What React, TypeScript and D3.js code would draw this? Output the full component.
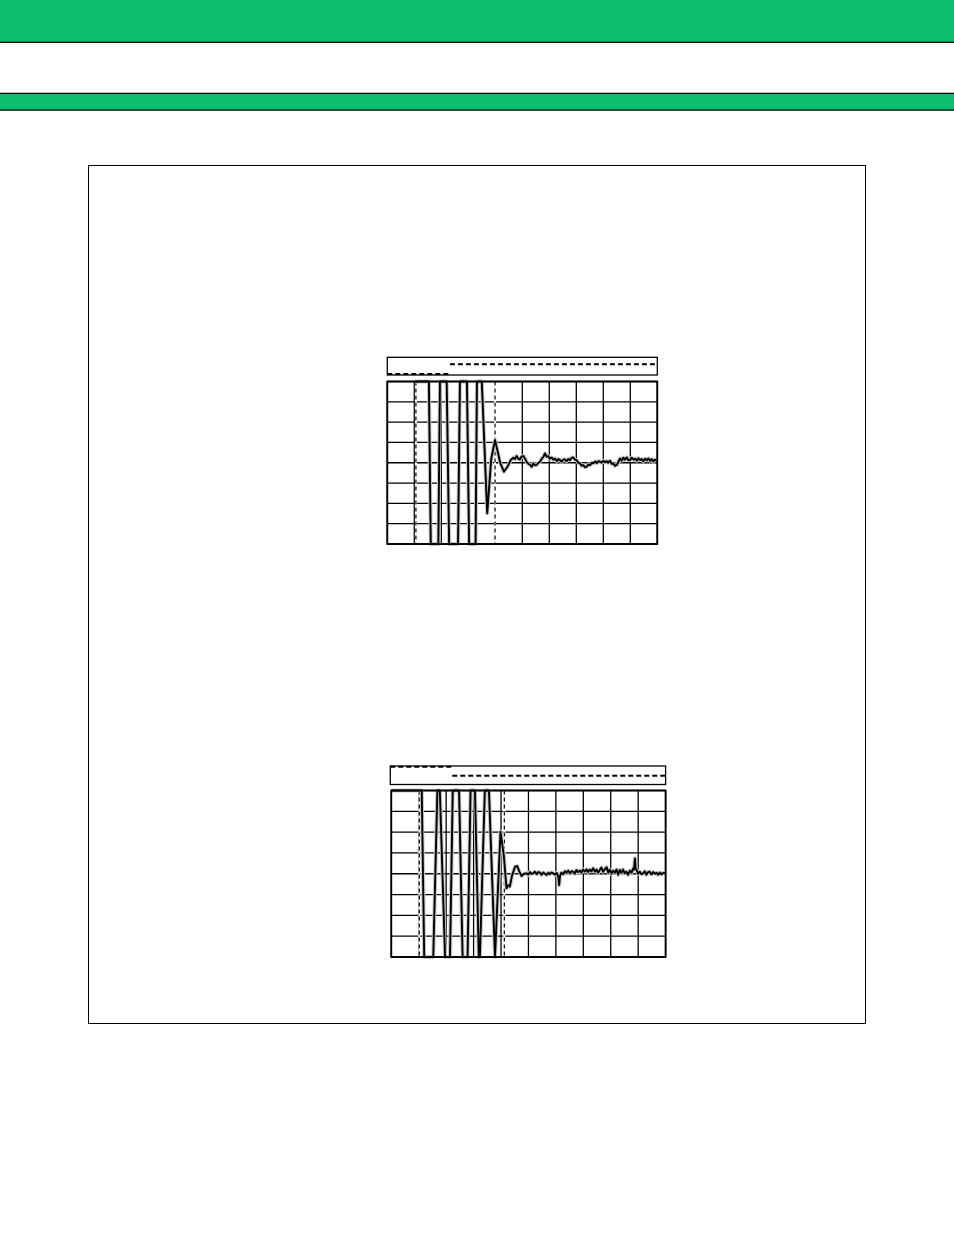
import React from "react";
import * as d3 from "d3";

// ---- data (x in horizontal divisions 0..10, y in vertical divisions -4..4) ----
const trace1X = [1.03, 1.54, 1.61, 1.89, 1.95, 2.2, 2.29, 2.62, 2.69, 2.95, 3.03, 3.27, 3.32, 3.5, 3.7, 3.85, 3.99, 4.08, 4.18, 4.32, 4.45, 4.58, 4.67, 4.73, 4.79, 4.85, 4.91, 4.97, 5.04, 5.1, 5.16, 5.22, 5.29, 5.35, 5.41, 5.47, 5.53, 5.6, 5.66, 5.72, 5.78, 5.84, 5.9, 5.96, 6.02, 6.09, 6.15, 6.21, 6.28, 6.34, 6.4, 6.46, 6.52, 6.58, 6.64, 6.7, 6.77, 6.83, 6.89, 6.95, 7.01, 7.07, 7.14, 7.2, 7.26, 7.32, 7.38, 7.45, 7.51, 7.57, 7.63, 7.7, 7.76, 7.82, 7.88, 7.94, 8.0, 8.06, 8.12, 8.18, 8.25, 8.31, 8.37, 8.43, 8.5, 8.56, 8.62, 8.68, 8.74, 8.8, 8.87, 8.93, 8.99, 9.05, 9.12, 9.18, 9.24, 9.3, 9.36, 9.42, 9.48, 9.55, 9.61, 9.67, 9.73, 9.79, 9.85, 9.91, 9.98];
const trace1Y = [4, 4, -4, -4, 4, 4, -4, -4, 4, 4, -4, -4, 4, 4, -2.49, 0.2, 1.12, 0.6, 0.0, -0.44, -0.2, 0.15, 0.25, 0.18, 0.33, 0.2, 0.16, 0.3, 0.33, 0.2, 0.05, -0.05, -0.11, -0.2, -0.03, -0.12, -0.11, 0.0, 0.05, 0.2, 0.29, 0.46, 0.3, 0.33, 0.2, 0.26, 0.15, 0.21, 0.08, 0.18, 0.13, 0.05, 0.16, 0.16, 0.08, 0.18, 0.13, 0.25, 0.26, 0.15, 0.13, 0.0, -0.03, -0.15, -0.11, -0.22, -0.2, -0.08, -0.12, 0.0, -0.03, 0.06, -0.02, 0.08, 0.05, 0.0, 0.1, 0.02, 0.08, 0.0, 0.1, -0.05, -0.03, -0.15, -0.11, 0.05, 0.21, 0.1, 0.25, 0.15, 0.26, 0.12, 0.13, 0.25, 0.15, 0.2, 0.1, 0.22, 0.13, 0.18, 0.08, 0.2, 0.12, 0.21, 0.1, 0.18, 0.06, 0.15, 0.1];

const trace2X = [0.0, 1.11, 1.2, 1.53, 1.68, 1.77, 1.96, 2.14, 2.24, 2.47, 2.6, 2.78, 2.89, 3.05, 3.19, 3.23, 3.41, 3.56, 3.78, 3.98, 4.1, 4.2, 4.26, 4.32, 4.4, 4.51, 4.59, 4.67, 4.75, 4.84, 4.93, 5.0, 5.05, 5.11, 5.17, 5.23, 5.3, 5.36, 5.42, 5.48, 5.54, 5.6, 5.66, 5.72, 5.78, 5.84, 5.9, 5.96, 6.03, 6.09, 6.12, 6.15, 6.2, 6.27, 6.33, 6.39, 6.45, 6.51, 6.57, 6.63, 6.69, 6.75, 6.81, 6.87, 6.93, 6.99, 7.06, 7.12, 7.18, 7.24, 7.3, 7.36, 7.42, 7.48, 7.54, 7.6, 7.66, 7.72, 7.79, 7.85, 7.91, 7.97, 8.03, 8.09, 8.15, 8.21, 8.27, 8.33, 8.39, 8.45, 8.51, 8.57, 8.63, 8.7, 8.76, 8.82, 8.85, 8.88, 8.91, 8.94, 9.0, 9.06, 9.12, 9.18, 9.24, 9.3, 9.36, 9.42, 9.48, 9.55, 9.61, 9.67, 9.73, 9.79, 9.85, 9.91, 9.99];
const trace2Y = [4, 4, -4, -4, 4, 4, -4, -4, 4, 4, -4, -4, 4, 4, -4, -4, 4, 4, -4, 2.02, 0.9, -0.7, -0.55, -0.62, -0.1, 0.34, 0.37, 0.1, -0.11, 0.0, 0.02, -0.05, 0.08, 0.0, 0.02, 0.1, -0.02, 0.08, 0.05, -0.05, 0.06, 0.0, -0.06, 0.05, -0.02, 0.06, 0.02, -0.04, 0.04, -0.14, -0.55, -0.1, 0.05, -0.02, 0.12, 0.05, 0.15, 0.02, 0.12, 0.1, 0.0, 0.18, 0.08, 0.15, 0.05, 0.2, 0.1, 0.21, 0.08, 0.2, 0.12, 0.26, 0.1, 0.2, 0.05, 0.18, 0.3, 0.1, 0.22, 0.31, 0.05, 0.2, 0.0, 0.15, 0.05, 0.2, -0.05, 0.18, 0.05, 0.2, 0.02, 0.1, -0.05, 0.15, 0.05, 0.26, 0.2, 0.74, 0.25, 0.18, 0.0, 0.1, -0.02, 0.02, 0.12, -0.05, 0.08, 0.1, -0.03, 0.08, 0.0, 0.05, -0.05, 0.06, -0.03, 0.04, 0.02];

// logic strip above each trace: level 0 = low, 1 = high; edges in divisions
const strip1Edges = [0, 2.32, 10];
const strip1Levels = [0, 1];
const strip2Edges = [0, 2.25, 10];
const strip2Levels = [1, 0];

// cursor (dashed) markers, in divisions
const markers1 = [1.06, 3.99];
const markers2 = [1.02, 4.12];

const xDivisions = d3.range(0, 11);
const yDivisions = d3.range(-4, 5);

const GREEN = "#0cbf6e";

type Layout = {
  left: number; top: number; width: number; height: number;
  stripLeft: number; stripTop: number; stripBottom: number; stripLow: number; stripHigh: number;
};

const layout1: Layout = { left: 387.3, top: 381.5, width: 270, height: 162.5, stripLeft: 387.3, stripTop: 357.3, stripBottom: 375, stripLow: 374, stripHigh: 364.3 };
const layout2: Layout = { left: 391.3, top: 790.5, width: 274.3, height: 166.5, stripLeft: 390.3, stripTop: 766, stripBottom: 784.5, stripLow: 775.7, stripHigh: 766.8 };

function Scope({ L, xs, ys, edges, levels, markers }: { L: Layout; xs: number[]; ys: number[]; edges: number[]; levels: number[]; markers: number[] }) {
  const x = d3.scaleLinear().domain([0, 10]).range([L.left, L.left + L.width]);
  const y = d3.scaleLinear().domain([-4, 4]).range([L.top + L.height, L.top]);
  const sx = d3.scaleLinear().domain([0, 10]).range([L.stripLeft, L.left + L.width]);
  const sy = d3.scaleLinear().domain([0, 1]).range([L.stripLow, L.stripHigh]);
  const pts: [number, number][] = xs.map((v, i) => [v, ys[i]]);
  const line = d3.line<[number, number]>().x((d) => x(d[0])).y((d) => y(d[1]));
  const path = line(pts) || "";

  return (
    <g>
      {/* logic strip */}
      <rect x={L.stripLeft} y={L.stripTop} width={L.left + L.width - L.stripLeft} height={L.stripBottom - L.stripTop} fill="white" stroke="black" strokeWidth={1.3} />
      {levels.map((lv, i) => (
        <line key={"s" + i} x1={sx(edges[i])} x2={sx(edges[i + 1])} y1={sy(lv)} y2={sy(lv)} stroke="black" strokeWidth={2} strokeDasharray="5,3" />
      ))}
      {/* graticule */}
      <rect x={L.left} y={L.top} width={L.width} height={L.height} fill="white" />
      {xDivisions.map((d) => (
        <line key={"gx" + d} x1={x(d)} x2={x(d)} y1={L.top} y2={L.top + L.height} stroke="black" strokeWidth={1.3} />
      ))}
      {yDivisions.map((d) => (
        <line key={"gy" + d} x1={L.left} x2={L.left + L.width} y1={y(d)} y2={y(d)} stroke="black" strokeWidth={1.3} />
      ))}
      {/* markers */}
      {markers.map((m, i) => (
        <g key={"m" + i}>
          <line x1={x(m)} x2={x(m)} y1={L.top + 1} y2={L.top + L.height - 1} stroke="white" strokeWidth={2} />
          <line x1={x(m)} x2={x(m)} y1={L.top} y2={L.top + L.height} stroke="black" strokeWidth={1.2} strokeDasharray="4,3" />
        </g>
      ))}
      {/* trace */}
      <path d={path} fill="none" stroke="#c4c4c4" strokeWidth={4} strokeLinejoin="round" />
      <path d={path} fill="none" stroke="black" strokeWidth={1.9} strokeLinejoin="round" />
      <rect x={L.left} y={L.top} width={L.width} height={L.height} fill="none" stroke="black" strokeWidth={1.8} />
    </g>
  );
}

export default function App() {
  return (
    <svg width={954} height={1235} style={{ position: "absolute", left: 0, top: 0, background: "white" }}>
      <rect x={0} y={0} width={954} height={1235} fill="white" />
      <rect x={0} y={0} width={954} height={42} fill={GREEN} />
      <line x1={0} x2={954} y1={42.3} y2={42.3} stroke="black" strokeWidth={1.3} />
      <rect x={0} y={93} width={954} height={17} fill={GREEN} />
      <line x1={0} x2={954} y1={93.3} y2={93.3} stroke="black" strokeWidth={1.3} />
      <line x1={0} x2={954} y1={110.2} y2={110.2} stroke="black" strokeWidth={1.3} />
      <rect x={88.5} y={165.5} width={777} height={858} fill="none" stroke="black" strokeWidth={1} />
      <Scope L={layout1} xs={trace1X} ys={trace1Y} edges={strip1Edges} levels={strip1Levels} markers={markers1} />
      <Scope L={layout2} xs={trace2X} ys={trace2Y} edges={strip2Edges} levels={strip2Levels} markers={markers2} />
    </svg>
  );
}
